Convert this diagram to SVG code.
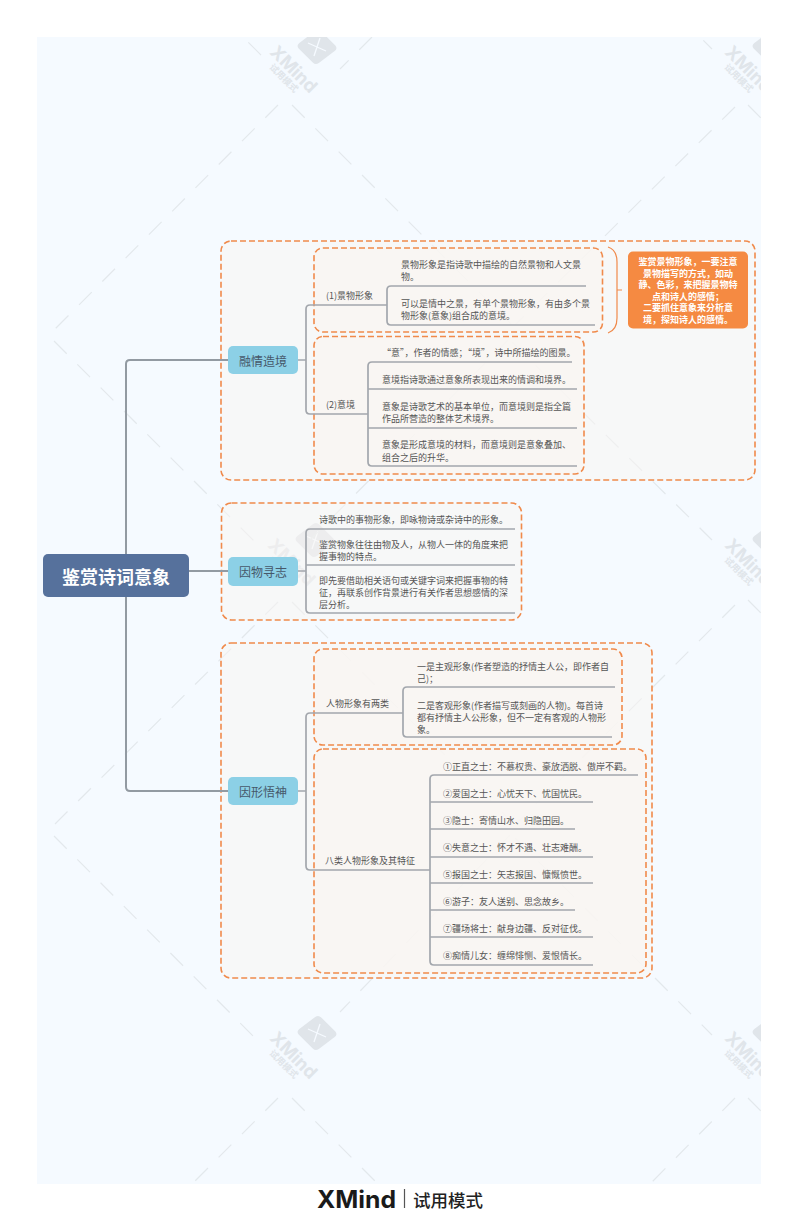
<svg xmlns="http://www.w3.org/2000/svg" xmlns:xlink="http://www.w3.org/1999/xlink" width="800" height="1220" viewBox="0 0 800 1220">
<style>
text{font-family:"Noto Sans CJK SC","Noto Sans",sans-serif;dominant-baseline:central}
.t{font-size:9px;fill:#555}
.m{font-size:12px;fill:#46586a;text-anchor:middle}
.c{font-size:9px;fill:#fff;text-anchor:middle;font-weight:700}
.topic{fill:#8cd0e6}
.bo{fill:#faf6f1;fill-opacity:.5;stroke:#f08a4b;stroke-width:1.6;stroke-dasharray:6 3}
.bd{fill:#faf6f1;fill-opacity:.75;stroke:#f08a4b;stroke-width:1.6;stroke-dasharray:6 3}
.ln{fill:none;stroke:#a3a7ad;stroke-width:1.7}
.tr{fill:none;stroke:#929aa2;stroke-width:2}
.dash{fill:none;stroke:#e3e8ec;stroke-width:1.2;stroke-dasharray:18 15}
.wm{fill:#e0e5ea}
</style>
<defs>
<clipPath id="panel"><rect x="37" y="37" width="724" height="1147"/></clipPath>
<g id="mark">
<rect x="-14" y="-14" width="28" height="28" rx="4" class="wm" transform="rotate(45) skewX(-8)"/>
<path d="M-9,-4 L9,4 M3,-9 L-3,9" stroke="#f5faff" stroke-width="1.3" fill="none"/>
<text x="-23" y="22" text-anchor="middle" transform="rotate(45 -23 22)" class="wm" style="font-size:18px;font-weight:700;font-family:Inter,sans-serif">XMind</text>
<text x="-33" y="31" text-anchor="middle" transform="rotate(45 -33 31)" class="wm" style="font-size:9px;font-weight:700">试用模式</text>
</g>
</defs>
<rect width="800" height="1220" fill="#fff"/>
<rect x="37" y="37" width="724" height="1147" fill="#f5faff"/>
<g id="watermark" clip-path="url(#panel)">
<use xlink:href="#mark" href="#mark" x="317" y="47"/>
<use xlink:href="#mark" href="#mark" x="315" y="540"/>
<use xlink:href="#mark" href="#mark" x="317" y="1033"/>
<use xlink:href="#mark" href="#mark" x="772" y="47"/>
<use xlink:href="#mark" href="#mark" x="772" y="540"/>
<use xlink:href="#mark" href="#mark" x="772" y="1033"/>
<path class="dash" d="M278,105L55,329M54,341L262,549M278,602L55,824M54,836L262,1045M278,1098L190,1186M225,19L262,56"/>
<path class="dash" d="M292,105L512,325M508,340L310,540M292,602L510,820M510,835L340,1012M292,1098L380,1186M372,37L340,69"/>
<path class="dash" d="M735,107L515,325M512,342L712,540M735,605L515,825M515,838L712,1035M735,1098L650,1184M680,17L712,49M748,105L765,122M748,600L765,617M748,1098L765,1115"/>
</g>
<g id="boundaries">
<rect class="bo" x="221" y="241" width="534" height="239" rx="10"/>
<rect class="bd" x="314" y="248" width="288.500" height="84" rx="9"/>
<rect class="bd" x="314" y="336.500" width="270" height="137.500" rx="9"/>
<rect class="bo" x="221.500" y="503" width="300" height="117" rx="10"/>
<rect class="bo" x="221" y="643" width="431" height="335" rx="10"/>
<rect class="bd" x="314" y="649" width="308" height="96" rx="9"/>
<rect class="bd" x="314" y="749" width="332" height="224" rx="9"/>
</g>
<g id="connectors">
<path class="tr" d="M189,571H228M228,360H130Q126,360 126,364V787Q126,791 130,791H228"/>
<path class="ln" d="M298,360H306M310,305Q306,305 306,309V410Q306,414 310,414H368M310,305H387"/>
<path class="ln" d="M586,286H391Q387,286 387,290V321Q387,325 391,325H595"/>
<path class="ln" d="M572,362H372Q368,362 368,366V462Q368,466 372,466H577M368,389H577M368,428H577"/>
<path class="ln" d="M298,571H306M515,529H310Q306,529 306,533V609Q306,613 310,613H515M306,565H515"/>
<path class="ln" d="M298,791H306M403,713H310Q306,713 306,717V866Q306,870 310,870H430"/>
<path class="ln" d="M615,687H407Q403,687 403,691V733Q403,737 407,737H612"/>
<path class="ln" d="M638,775H434Q430,775 430,779V961Q430,965 434,965H593M430,802H593M430,829H575M430,857H593M430,883H593M430,910H575M430,937H593"/>
<path d="M608,247Q617,250 617,262V318Q617,330 608,333M617,290H622" fill="none" stroke="#f08a4b" stroke-width="1.2"/>
</g>
<g id="root"><rect x="43" y="554" width="146" height="43" rx="5" fill="#56719c"/><text x="116" y="575.500" text-anchor="middle" style="font-size:18px;font-weight:700;fill:#fff">鉴赏诗词意象</text></g>
<g id="topic-rqzj"><rect class="topic" x="228" y="346" width="70" height="28" rx="5"/><text class="m" x="263" y="360">融情造境</text></g>
<g id="topic-ywxz"><rect class="topic" x="228" y="557" width="70" height="29" rx="5"/><text class="m" x="263" y="571">因物寻志</text></g>
<g id="topic-yxws"><rect class="topic" x="228" y="777" width="70" height="28" rx="5"/><text class="m" x="263" y="791">因形悟神</text></g>
<g id="callout"><rect x="628" y="251.500" width="120" height="77" rx="5" fill="#f58a42"/>
<text class="c" x="688" y="261">鉴赏景物形象，一要注意</text><text class="c" x="688" y="273">景物描写的方式，如动</text><text class="c" x="688" y="284.500">静、色彩，来把握景物特</text><text class="c" x="688" y="296">点和诗人的感情；</text><text class="c" x="688" y="307.500">二要抓住意象来分析意</text><text class="c" x="688" y="319">境，探知诗人的感情。</text></g>
<g id="n-jwxx"><text class="t" x="326" y="295">(1)景物形象</text></g>
<g id="n-jw1"><text class="t" x="401" y="264">景物形象是指诗歌中描绘的自然景物和人文景</text><text class="t" x="401" y="276">物。</text></g>
<g id="n-jw2"><text class="t" x="401" y="303">可以是情中之景，有单个景物形象，有由多个景</text><text class="t" x="401" y="315">物形象(意象)组合成的意境。</text></g>
<g id="n-yj"><text class="t" x="326" y="404">(2)意境</text></g>
<g id="n-yj1"><text class="t" x="382" y="352">“意”，作者的情感；“境”，诗中所描绘的图景。</text></g>
<g id="n-yj2"><text class="t" x="382" y="379">意境指诗歌通过意象所表现出来的情调和境界。</text></g>
<g id="n-yj3"><text class="t" x="382" y="406">意象是诗歌艺术的基本单位，而意境则是指全篇</text><text class="t" x="382" y="418">作品所营造的整体艺术境界。</text></g>
<g id="n-yj4"><text class="t" x="382" y="444">意象是形成意境的材料，而意境则是意象叠加、</text><text class="t" x="382" y="457">组合之后的升华。</text></g>
<g id="n-yw1"><text class="t" x="319" y="519">诗歌中的事物形象，即咏物诗或杂诗中的形象。</text></g>
<g id="n-yw2"><text class="t" x="319" y="544">鉴赏物象往往由物及人，从物人一体的角度来把</text><text class="t" x="319" y="556">握事物的特点。</text></g>
<g id="n-yw3"><text class="t" x="319" y="580">即先要借助相关语句或关键字词来把握事物的特</text><text class="t" x="319" y="592">征，再联系创作背景进行有关作者思想感情的深</text><text class="t" x="319" y="604">层分析。</text></g>
<g id="n-rw"><text class="t" x="326" y="703">人物形象有两类</text></g>
<g id="n-rw1"><text class="t" x="417" y="666">一是主观形象(作者塑造的抒情主人公，即作者自</text><text class="t" x="417" y="678">己)；</text></g>
<g id="n-rw2"><text class="t" x="417" y="705">二是客观形象(作者描写或刻画的人物)。每首诗</text><text class="t" x="417" y="717">都有抒情主人公形象，但不一定有客观的人物形</text><text class="t" x="417" y="729">象。</text></g>
<g id="n-bl"><text class="t" x="325" y="860">八类人物形象及其特征</text></g>
<g id="n-b1"><text class="t" x="443" y="766">①正直之士：不慕权贵、豪放洒脱、傲岸不羁。</text></g>
<g id="n-b2"><text class="t" x="443" y="793">②爱国之士：心忧天下、忧国忧民。</text></g>
<g id="n-b3"><text class="t" x="443" y="820">③隐士：寄情山水、归隐田园。</text></g>
<g id="n-b4"><text class="t" x="443" y="847">④失意之士：怀才不遇、壮志难酬。</text></g>
<g id="n-b5"><text class="t" x="443" y="874">⑤报国之士：矢志报国、慷慨愤世。</text></g>
<g id="n-b6"><text class="t" x="443" y="901">⑥游子：友人送别、思念故乡。</text></g>
<g id="n-b7"><text class="t" x="443" y="928">⑦疆场将士：献身边疆、反对征伐。</text></g>
<g id="n-b8"><text class="t" x="443" y="955">⑧痴情儿女：缠绵悱恻、爱恨情长。</text></g>
<g id="footer"><text x="317" y="1199" textLength="79" lengthAdjust="spacingAndGlyphs" style="font-size:24px;font-weight:700;font-family:Inter,sans-serif;fill:#1a1a1a">XMind</text><path d="M404.500,1189V1208" stroke="#555" stroke-width="1.2"/><text x="413" y="1199" style="font-size:17.500px;font-weight:500;fill:#222">试用模式</text></g>
</svg>
